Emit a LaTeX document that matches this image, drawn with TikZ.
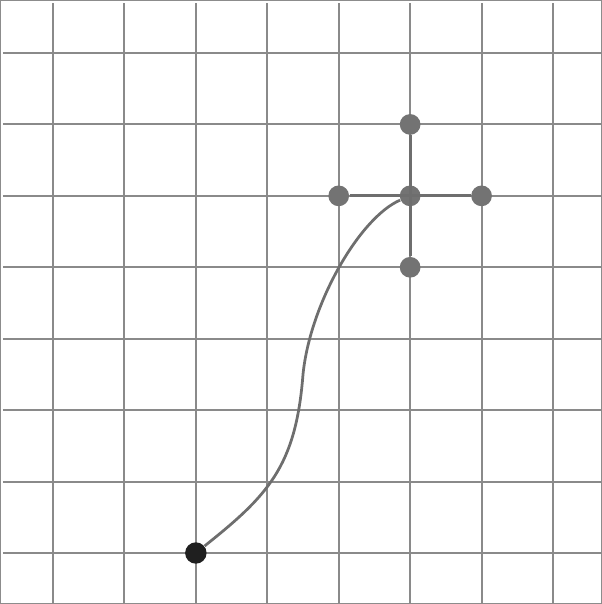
\documentclass[tikz,border=0pt]{standalone}
\usepackage{tikz}

\begin{document}
\begin{tikzpicture}[line cap=butt,
  grid/.style={draw=black!46,line width=0.8pt},
  arm/.style={draw=black!57,line width=1.2pt},
  dot/.style={circle,fill=black!55,inner sep=0pt,minimum size=0.29cm},
  start/.style={circle,fill=black!88,inner sep=0pt,minimum size=0.3cm}]

\useasboundingbox (-0.742,-0.714) rectangle (7.686,7.742);
\draw[black!45,line width=0.8pt] (-0.742,-0.714) rectangle (7.686,7.742);

% grid
\foreach \i in {0,...,7} {
  \draw[grid] (\i,-0.714) -- (\i,7.70);
  \draw[grid] (-0.70,\i) -- (7.686,\i);
}

\node[dot] (c) at (5,5) {};
\node[dot] (w) at (4,5) {};
\node[dot] (e) at (6,5) {};
\node[dot] (n) at (5,6) {};
\node[dot] (s) at (5,4) {};
\node[start] (p) at (2,0) {};

\draw[arm] (w) -- (e);
\draw[arm] (n) -- (s);

\draw[arm,line width=1.1pt] (p) .. controls (3.0,0.8) and (3.4,1.2) .. (3.5,2.5)
  .. controls (3.6,3.5) and (4.3,4.7) .. (c);

\end{tikzpicture}
\end{document}
